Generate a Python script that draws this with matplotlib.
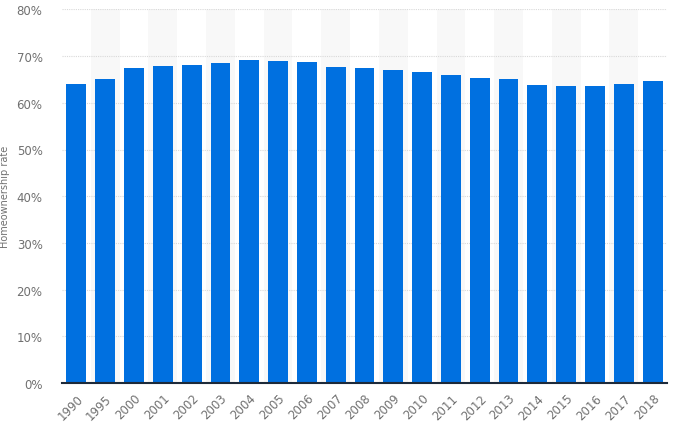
import matplotlib
matplotlib.use("Agg")
import matplotlib.pyplot as plt
import numpy as np

years = ["1990", "1995", "2000", "2001", "2002", "2003", "2004", "2005", "2006", "2007",
         "2008", "2009", "2010", "2011", "2012", "2013", "2014", "2015", "2016", "2017", "2018"]
rates = [64.0, 65.1, 67.5, 67.9, 68.1, 68.6, 69.2, 69.0, 68.8, 67.7,
         67.5, 67.0, 66.5, 66.0, 65.3, 65.1, 63.8, 63.6, 63.6, 64.0, 64.7]
y_ticks = [0, 10, 20, 30, 40, 50, 60, 70, 80]
y_label = "Homeownership rate"

fig = plt.figure(figsize=(6.73, 4.35), dpi=100)
ax = fig.add_axes([62/673, 51/435, 605/673, 373.6/435])

x = np.arange(len(years))
for i in x:
    if i % 2 == 1:
        ax.axvspan(i - 0.5, i + 0.5, color="#f8f8f8", zorder=0, lw=0)

for t in y_ticks[1:]:
    ax.axhline(t, color="#d9d9d9", lw=0.8, ls=(0, (1, 1)), zorder=1)

ax.bar(x, rates, width=0.69, color="#0070e0", zorder=2)

ax.set_xlim(-0.5, len(years) - 0.5)
ax.set_ylim(0, 80)
ax.set_yticks(y_ticks)
ax.set_yticklabels([f"{t}%" for t in y_ticks])
ax.set_xticks(x)
ax.set_xticklabels(years, rotation=45, ha="right", rotation_mode="anchor")

for s in ["top", "right", "left"]:
    ax.spines[s].set_visible(False)
ax.spines["bottom"].set_color("#1d2a3a")
ax.spines["bottom"].set_linewidth(1.5)
ax.spines["bottom"].set_zorder(3)

ax.tick_params(axis="y", length=0, pad=14, labelsize=8.5, labelcolor="#707070")
ax.tick_params(axis="x", length=0, pad=6, labelsize=8.5, labelcolor="#707070")
ax.set_ylabel(y_label, fontsize=7, color="#707070")
ax.yaxis.set_label_coords(-0.086, 0.5)

fig.savefig("out.png", dpi=100)
